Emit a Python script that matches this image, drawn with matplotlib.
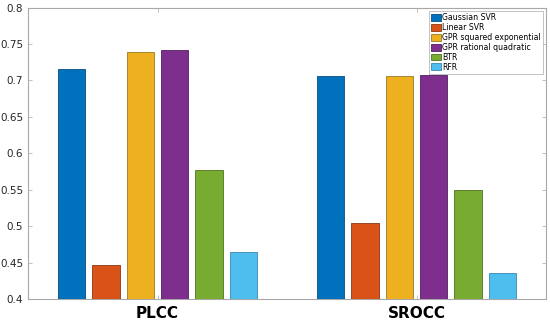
import numpy as np
import matplotlib
matplotlib.use('Agg')
import matplotlib.pyplot as plt

# Data
metrics = ['PLCC', 'SROCC']
models = ['Gaussian SVR', 'Linear SVR', 'GPR squared exponential',
          'GPR rational quadratic', 'BTR', 'RFR']
plcc = [0.715, 0.447, 0.739, 0.742, 0.577, 0.464]
srocc = [0.706, 0.504, 0.706, 0.707, 0.550, 0.435]

COLORS = ['#0072bd', '#d95319', '#edb120', '#7e2f8e', '#77ac30', '#4dbeee']
EDGE = ['#0a4f80', '#8a3a12', '#9a7a20', '#4e2060', '#4f7020', '#3a8ab0']
SPINE = '#a8a8a8'
TEXT = '#262626'

fig = plt.figure(figsize=(5.5, 3.2), dpi=100)
ax = fig.add_axes([28 / 550, 21 / 320, 518 / 550, 291.5 / 320])

x = np.arange(1, len(metrics) + 1)
step = 0.133
width = 0.106
values = np.array([plcc, srocc]).T
for i, (name, vals) in enumerate(zip(models, values)):
    offs = (i - (len(models) - 1) / 2) * step
    ax.bar(x + offs, vals, width=width, color=COLORS[i], edgecolor=EDGE[i],
           linewidth=0.6, label=name, zorder=3)

ax.set_xlim(0.5, 2.5)
ax.set_ylim(0.4, 0.8)
ax.set_yticks(np.arange(0.4, 0.801, 0.05))
ax.set_yticklabels(['0.4', '0.45', '0.5', '0.55', '0.6', '0.65', '0.7', '0.75', '0.8'])
ax.set_xticks(x)
ax.set_xticklabels(metrics, fontsize=11, fontweight='bold', color='black')

ax.tick_params(axis='y', labelsize=7.5, direction='in', length=3,
               right=True, width=0.5, colors=SPINE, labelcolor=TEXT)
ax.tick_params(axis='x', direction='in', length=3, top=True, colors=SPINE,
               labelcolor='black', pad=5, width=0.5)
for s in ax.spines.values():
    s.set_color(SPINE)
    s.set_linewidth(0.8)

leg = ax.legend(loc='upper right', fontsize=5.6, frameon=True, fancybox=False,
                handlelength=1.2, handleheight=1.0, handletextpad=0.15,
                labelspacing=0.12, borderpad=0.3, borderaxespad=0.4)
leg.get_frame().set_edgecolor(SPINE)
leg.get_frame().set_linewidth(0.6)

fig.savefig('out.png', dpi=100)
